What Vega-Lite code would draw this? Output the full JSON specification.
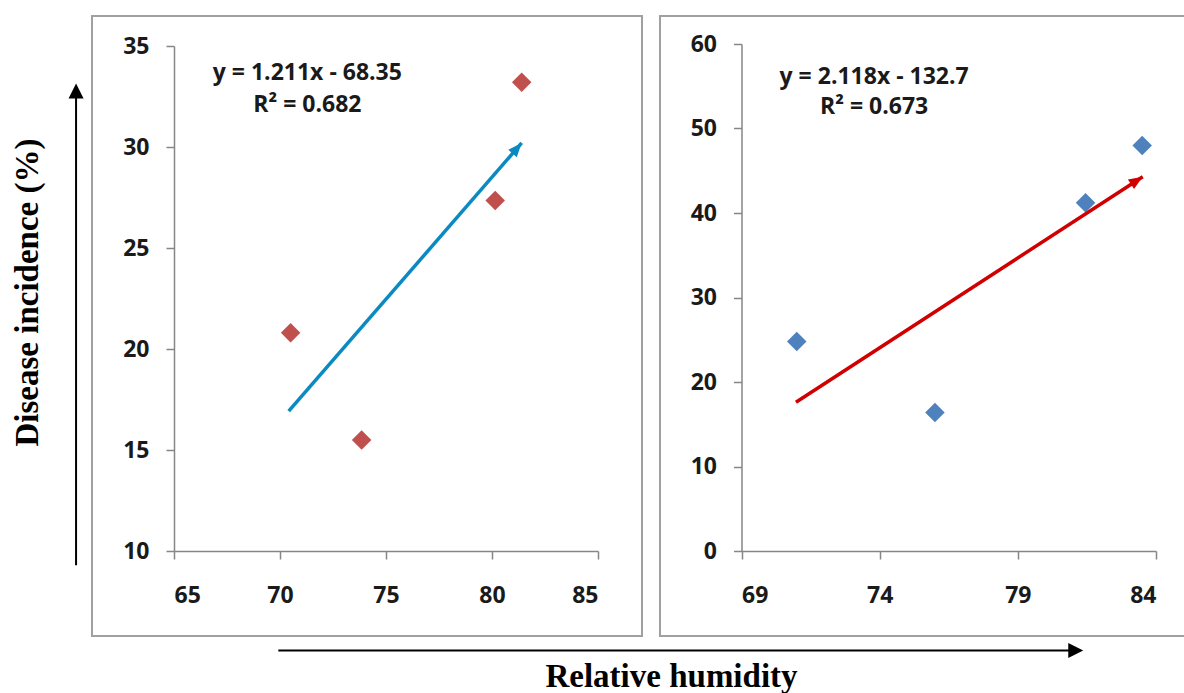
{
  "$schema": "https://vega.github.io/schema/vega-lite/v6.json",
  "background": "white",
  "padding": {"left": 10, "top": 15, "right": 0, "bottom": 0},
  "bounds": "flush",
  "spacing": 18,
  "datasets": {
    "left_points": [
      {"rh": 70.5, "incidence": 20.8},
      {"rh": 73.85, "incidence": 15.5},
      {"rh": 80.15, "incidence": 27.35},
      {"rh": 81.4, "incidence": 33.2}
    ],
    "right_points": [
      {"rh": 71.0, "incidence": 24.8},
      {"rh": 76.0, "incidence": 16.4},
      {"rh": 81.45, "incidence": 41.2},
      {"rh": 83.5, "incidence": 48.0}
    ],
    "left_trend": [
      {"rh": 70.41, "incidence": 16.92, "end": "start"},
      {"rh": 81.4, "incidence": 30.2, "end": "tip"}
    ],
    "right_trend": [
      {"rh": 70.97, "incidence": 17.6, "end": "start"},
      {"rh": 83.52, "incidence": 44.3, "end": "tip"}
    ]
  },
  "hconcat": [
    {
      "width": 550,
      "height": 620,
      "layer": [
        {
          "data": {"name": "left_points"},
          "mark": {"type": "point", "shape": "diamond", "filled": true, "size": 380, "color": "#C0504D", "opacity": 1},
          "encoding": {
            "x": {"field": "rh", "type": "quantitative",
              "scale": {"domain": [65, 85], "range": [82, 506], "nice": false, "zero": false},
              "axis": {"values": [65, 70, 75, 80, 85], "offset": -85, "labelPadding": 25,
                "title": "Relative humidity", "titleX": 579, "titleY": 135, "titleAngle": 0,
                "titleAlign": "center", "titleBaseline": "alphabetic", "titleFontSize": 33}},
            "y": {"field": "incidence", "type": "quantitative",
              "scale": {"domain": [10, 35], "range": [535, 30], "nice": false, "zero": false},
              "axis": {"values": [10, 15, 20, 25, 30, 35], "offset": -82, "labelPadding": 17,
                "title": "Disease incidence (%)", "titleX": -136.5, "titleY": 276, "titleAngle": -90,
                "titleAlign": "center", "titleBaseline": "alphabetic", "titleFontSize": 33}}
          }
        },
        {
          "data": {"name": "left_trend"},
          "mark": {"type": "line", "color": "#0b8ac2", "strokeWidth": 3.5},
          "encoding": {
            "x": {"field": "rh", "type": "quantitative", "scale": {"domain": [65, 85], "range": [82, 506], "nice": false, "zero": false}},
            "y": {"field": "incidence", "type": "quantitative", "scale": {"domain": [10, 35], "range": [535, 30], "nice": false, "zero": false}}
          }
        },
        {
          "data": {"name": "left_trend"},
          "transform": [{"filter": "datum.end == 'tip'"}],
          "mark": {"type": "point", "shape": "M0,0L0.4,1L-0.4,1Z", "filled": true, "size": 784, "angle": 41, "color": "#0b8ac2", "opacity": 1},
          "encoding": {
            "x": {"field": "rh", "type": "quantitative", "scale": {"domain": [65, 85], "range": [82, 506], "nice": false, "zero": false}},
            "y": {"field": "incidence", "type": "quantitative", "scale": {"domain": [10, 35], "range": [535, 30], "nice": false, "zero": false}}
          }
        },
        {
          "data": {"values": [{}]},
          "mark": {"type": "text", "text": "y = 1.211x - 68.35", "font": "Open Sans", "fontWeight": "bold", "fontSize": 23, "color": "#1a1a1a", "align": "center", "baseline": "middle"},
          "encoding": {
            "x": {"datum": 71.29, "type": "quantitative", "scale": {"domain": [65, 85], "range": [82, 506], "nice": false, "zero": false}},
            "y": {"datum": 33.65, "type": "quantitative", "scale": {"domain": [10, 35], "range": [535, 30], "nice": false, "zero": false}}
          }
        },
        {
          "data": {"values": [{}]},
          "mark": {"type": "text", "text": "R² = 0.682", "font": "Open Sans", "fontWeight": "bold", "fontSize": 23, "color": "#1a1a1a", "align": "center", "baseline": "middle"},
          "encoding": {
            "x": {"datum": 71.29, "type": "quantitative", "scale": {"domain": [65, 85], "range": [82, 506], "nice": false, "zero": false}},
            "y": {"datum": 32.06, "type": "quantitative", "scale": {"domain": [10, 35], "range": [535, 30], "nice": false, "zero": false}}
          }
        },
        {
          "data": {"values": [{}]},
          "mark": {"type": "rule", "color": "black", "strokeWidth": 2},
          "encoding": {
            "x": {"datum": 60.38, "type": "quantitative", "scale": {"domain": [65, 85], "range": [82, 506], "nice": false, "zero": false}},
            "y": {"datum": 9.29, "type": "quantitative", "scale": {"domain": [10, 35], "range": [535, 30], "nice": false, "zero": false}},
            "y2": {"datum": 32.8}
          }
        },
        {
          "data": {"values": [{}]},
          "mark": {"type": "point", "shape": "M0,0L0.5,1L-0.5,1Z", "filled": true, "size": 900, "angle": 0, "color": "black", "opacity": 1},
          "encoding": {
            "x": {"datum": 60.38, "type": "quantitative", "scale": {"domain": [65, 85], "range": [82, 506], "nice": false, "zero": false}},
            "y": {"datum": 33.14, "type": "quantitative", "scale": {"domain": [10, 35], "range": [535, 30], "nice": false, "zero": false}}
          }
        },
        {
          "data": {"values": [{}]},
          "mark": {"type": "rule", "color": "black", "strokeWidth": 2},
          "encoding": {
            "x": {"datum": 69.92, "type": "quantitative", "scale": {"domain": [65, 85], "range": [82, 506], "nice": false, "zero": false}},
            "x2": {"datum": 107.5},
            "y": {"datum": 5.08, "type": "quantitative", "scale": {"domain": [10, 35], "range": [535, 30], "nice": false, "zero": false}}
          }
        },
        {
          "data": {"values": [{}]},
          "mark": {"type": "point", "shape": "M0,0L0.5,1L-0.5,1Z", "filled": true, "size": 900, "angle": 90, "color": "black", "opacity": 1},
          "encoding": {
            "x": {"datum": 107.89, "type": "quantitative", "scale": {"domain": [65, 85], "range": [82, 506], "nice": false, "zero": false}},
            "y": {"datum": 5.08, "type": "quantitative", "scale": {"domain": [10, 35], "range": [535, 30], "nice": false, "zero": false}}
          }
        }
      ]
    },
    {
      "width": 525,
      "height": 620,
      "layer": [
        {
          "data": {"name": "right_points"},
          "mark": {"type": "point", "shape": "diamond", "filled": true, "size": 380, "color": "#4F81BD", "opacity": 1},
          "encoding": {
            "x": {"field": "rh", "type": "quantitative",
              "scale": {"domain": [69, 84], "range": [81.5, 496], "nice": false, "zero": false},
              "axis": {"values": [69, 74, 79, 84], "offset": -85, "labelPadding": 25, "title": null}},
            "y": {"field": "incidence", "type": "quantitative",
              "scale": {"domain": [0, 60], "range": [535, 28], "nice": false, "zero": false},
              "axis": {"values": [0, 10, 20, 30, 40, 50, 60], "offset": -81.5, "labelPadding": 17, "title": null}}
          }
        },
        {
          "data": {"name": "right_trend"},
          "mark": {"type": "line", "color": "#d00000", "strokeWidth": 3.5},
          "encoding": {
            "x": {"field": "rh", "type": "quantitative", "scale": {"domain": [69, 84], "range": [81.5, 496], "nice": false, "zero": false}},
            "y": {"field": "incidence", "type": "quantitative", "scale": {"domain": [0, 60], "range": [535, 28], "nice": false, "zero": false}}
          }
        },
        {
          "data": {"name": "right_trend"},
          "transform": [{"filter": "datum.end == 'tip'"}],
          "mark": {"type": "point", "shape": "M0,0L0.4,1L-0.4,1Z", "filled": true, "size": 784, "angle": 57, "color": "#d00000", "opacity": 1},
          "encoding": {
            "x": {"field": "rh", "type": "quantitative", "scale": {"domain": [69, 84], "range": [81.5, 496], "nice": false, "zero": false}},
            "y": {"field": "incidence", "type": "quantitative", "scale": {"domain": [0, 60], "range": [535, 28], "nice": false, "zero": false}}
          }
        },
        {
          "data": {"values": [{}]},
          "mark": {"type": "text", "text": "y = 2.118x - 132.7", "font": "Open Sans", "fontWeight": "bold", "fontSize": 23, "color": "#1a1a1a", "align": "center", "baseline": "middle"},
          "encoding": {
            "x": {"datum": 73.8, "type": "quantitative", "scale": {"domain": [69, 84], "range": [81.5, 496], "nice": false, "zero": false}},
            "y": {"datum": 56.13, "type": "quantitative", "scale": {"domain": [0, 60], "range": [535, 28], "nice": false, "zero": false}}
          }
        },
        {
          "data": {"values": [{}]},
          "mark": {"type": "text", "text": "R² = 0.673", "font": "Open Sans", "fontWeight": "bold", "fontSize": 23, "color": "#1a1a1a", "align": "center", "baseline": "middle"},
          "encoding": {
            "x": {"datum": 73.8, "type": "quantitative", "scale": {"domain": [69, 84], "range": [81.5, 496], "nice": false, "zero": false}},
            "y": {"datum": 52.54, "type": "quantitative", "scale": {"domain": [0, 60], "range": [535, 28], "nice": false, "zero": false}}
          }
        }
      ]
    }
  ],
  "config": {
    "view": {"stroke": "#a0a0a0", "strokeWidth": 2},
    "axis": {
      "grid": false,
      "domainColor": "#868686",
      "domainWidth": 1.5,
      "tickColor": "#868686",
      "tickWidth": 1.5,
      "tickSize": 8,
      "labelFont": "Open Sans",
      "labelFontWeight": "bold",
      "labelFontSize": 23,
      "labelColor": "#1a1a1a",
      "titleFont": "Liberation Serif",
      "titleFontWeight": "bold",
      "titleColor": "black"
    }
  }
}
